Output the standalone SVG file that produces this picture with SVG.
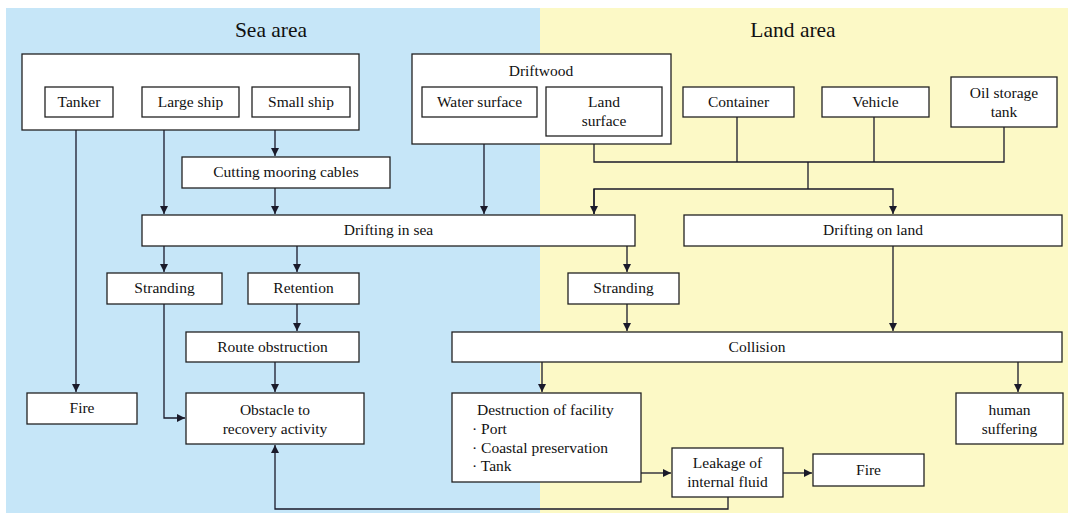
<svg xmlns="http://www.w3.org/2000/svg" width="1068" height="513" viewBox="0 0 1068 513">
<style>
.bx{fill:#fff;stroke:#222;stroke-width:1.3}
.t{font-family:"Liberation Serif","Times New Roman",serif;font-size:15.5px;fill:#111;text-anchor:middle}
.tl{font-family:"Liberation Serif","Times New Roman",serif;font-size:15.5px;fill:#111}
.ttl{font-family:"Liberation Serif","Times New Roman",serif;font-size:21.5px;fill:#111;text-anchor:middle}
.c{fill:none;stroke:#1a1a2a;stroke-width:1.3}
</style>
<defs>
<marker id="ah" markerWidth="8" markerHeight="8" refX="8" refY="4" orient="auto" markerUnits="userSpaceOnUse">
<path d="M0,0 L8,4 L0,8 z" fill="#1a1a2a"/>
</marker>
</defs>
<rect x="0" y="0" width="1068" height="513" fill="#fff"/>
<rect x="6" y="8" width="534" height="505" fill="#c6e6f8"/>
<rect x="540" y="8" width="528" height="505" fill="#fcf9c6"/>
<text class="ttl" x="271" y="37">Sea area</text>
<text class="ttl" x="793" y="37">Land area</text>

<g id="connectors">
<path class="c" d="M76,130 V392" marker-end="url(#ah)"/>
<path class="c" d="M164,130 V214" marker-end="url(#ah)"/>
<path class="c" d="M275,130 V156" marker-end="url(#ah)"/>
<path class="c" d="M275,188 V214" marker-end="url(#ah)"/>
<path class="c" d="M484,144 V214" marker-end="url(#ah)"/>
<path class="c" d="M594,136 V162 H1004 V127"/>
<path class="c" d="M737,117 V162"/>
<path class="c" d="M874,117 V162"/>
<path class="c" d="M808,162 V189"/>
<path class="c" d="M594,214 V189 H893 V214" marker-end="url(#ah)"/>
<path class="c" d="M594,189 V214" marker-end="url(#ah)"/>
<path class="c" d="M164,246 V272" marker-end="url(#ah)"/>
<path class="c" d="M297,246 V272" marker-end="url(#ah)"/>
<path class="c" d="M627,246 V272" marker-end="url(#ah)"/>
<path class="c" d="M297,304 V331" marker-end="url(#ah)"/>
<path class="c" d="M627,304 V331" marker-end="url(#ah)"/>
<path class="c" d="M893,246 V331" marker-end="url(#ah)"/>
<path class="c" d="M275,362 V392" marker-end="url(#ah)"/>
<path class="c" d="M164,304 V418 H185" marker-end="url(#ah)"/>
<path class="c" d="M542,362 V392" marker-end="url(#ah)"/>
<path class="c" d="M1018,362 V392" marker-end="url(#ah)"/>
<path class="c" d="M641,473 H671" marker-end="url(#ah)"/>
<path class="c" d="M783,473 H812" marker-end="url(#ah)"/>
<path class="c" d="M728,497 V509 H275 V445" marker-end="url(#ah)"/>
</g>

<g id="ships">
<rect class="bx" x="22" y="54" width="337" height="76"/>
</g>
<g id="tanker"><rect class="bx" x="45" y="87" width="68" height="30"/><text class="t" x="79" y="107">Tanker</text></g>
<g id="large-ship"><rect class="bx" x="142" y="87" width="97" height="30"/><text class="t" x="190.5" y="107">Large ship</text></g>
<g id="small-ship"><rect class="bx" x="252" y="87" width="98" height="30"/><text class="t" x="301" y="107">Small ship</text></g>
<g id="cutting"><rect class="bx" x="182" y="157" width="208" height="31"/><text class="t" x="286" y="177">Cutting mooring cables</text></g>

<g id="driftwood"><rect class="bx" x="412" y="54" width="259" height="90"/><text class="t" x="541" y="76">Driftwood</text></g>
<g id="water-surface"><rect class="bx" x="422" y="87" width="115" height="30"/><text class="t" x="479.5" y="107">Water surface</text></g>
<g id="land-surface"><rect class="bx" x="546" y="87" width="116" height="49"/><text class="t" x="604" y="107">Land</text><text class="t" x="604" y="126">surface</text></g>
<g id="container"><rect class="bx" x="683" y="87" width="111" height="30"/><text class="t" x="738.5" y="107">Container</text></g>
<g id="vehicle"><rect class="bx" x="822" y="87" width="107" height="30"/><text class="t" x="875.5" y="107">Vehicle</text></g>
<g id="oil-tank"><rect class="bx" x="951" y="77" width="106" height="50"/><text class="t" x="1004" y="98">Oil storage</text><text class="t" x="1004" y="117">tank</text></g>

<g id="drifting-sea"><rect class="bx" x="142" y="215" width="493" height="31"/><text class="t" x="388.5" y="235">Drifting in sea</text></g>
<g id="drifting-land"><rect class="bx" x="684" y="215" width="378" height="31"/><text class="t" x="873" y="235">Drifting on land</text></g>

<g id="stranding-sea"><rect class="bx" x="107" y="273" width="115" height="31"/><text class="t" x="164.5" y="293">Stranding</text></g>
<g id="retention"><rect class="bx" x="248" y="273" width="111" height="31"/><text class="t" x="303.5" y="293">Retention</text></g>
<g id="stranding-land"><rect class="bx" x="568" y="273" width="111" height="31"/><text class="t" x="623.5" y="293">Stranding</text></g>

<g id="route"><rect class="bx" x="186" y="332" width="173" height="30"/><text class="t" x="272.5" y="352">Route obstruction</text></g>
<g id="collision"><rect class="bx" x="452" y="332" width="610" height="30"/><text class="t" x="757" y="352">Collision</text></g>

<g id="fire-sea"><rect class="bx" x="27" y="393" width="110" height="31"/><text class="t" x="82" y="413">Fire</text></g>
<g id="obstacle"><rect class="bx" x="186" y="393" width="178" height="51"/><text class="t" x="275" y="415">Obstacle to</text><text class="t" x="275" y="434">recovery activity</text></g>

<g id="destruction"><rect class="bx" x="452" y="393" width="189" height="89"/>
<text class="tl" x="477" y="415">Destruction of facility</text>
<text class="tl" x="472" y="434">· Port</text>
<text class="tl" x="472" y="453">· Coastal preservation</text>
<text class="tl" x="472" y="471">· Tank</text></g>
<g id="leakage"><rect class="bx" x="672" y="448" width="111" height="49"/><text class="t" x="727.5" y="468">Leakage of</text><text class="t" x="727.5" y="487">internal fluid</text></g>
<g id="fire-land"><rect class="bx" x="813" y="454" width="111" height="32"/><text class="t" x="868.5" y="475">Fire</text></g>
<g id="human"><rect class="bx" x="956" y="393" width="107" height="51"/><text class="t" x="1009.5" y="415">human</text><text class="t" x="1009.5" y="434">suffering</text></g>
</svg>
